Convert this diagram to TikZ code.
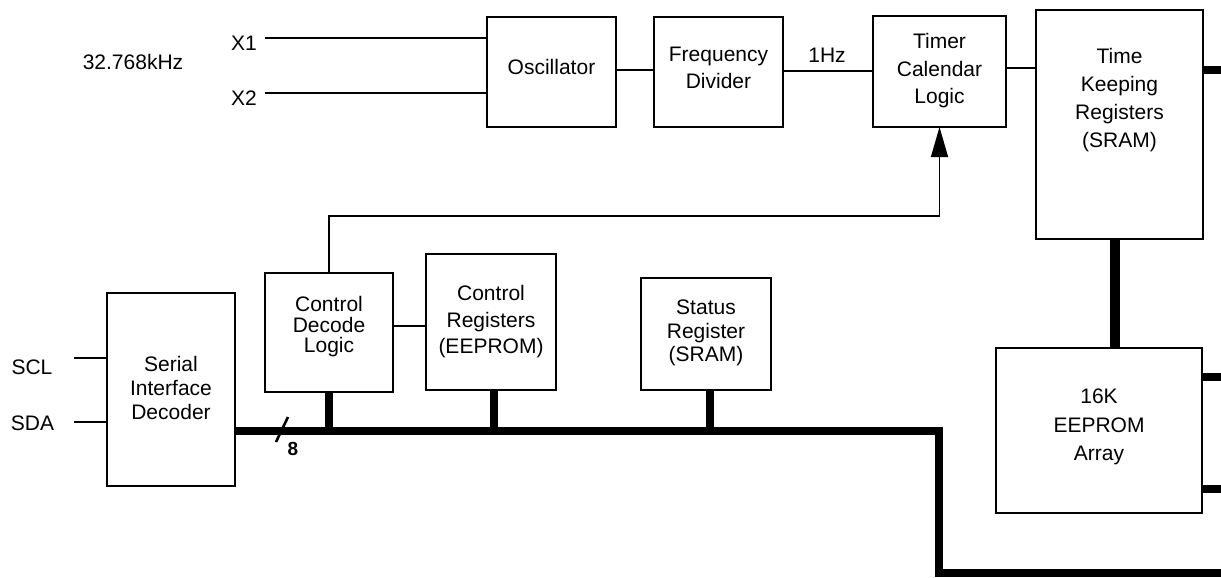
\documentclass[tikz,border=0pt]{standalone}
\usepackage{fontspec}
\setmainfont{Liberation Sans}
\usetikzlibrary{arrows.meta}
\begin{document}
\begin{tikzpicture}[x=1pt,y=-1pt,
  box/.style={draw,line width=2.6pt,inner sep=0pt,outer sep=0pt},
  txt/.style={inner sep=0pt,align=center,font=\fontsize{21}{#1}\selectfont},
  txt/.default=27,
  wire/.style={line width=1.6pt},
  ctl/.style={line width=1.3pt},
  bus/.style={line width=7.4pt},
  fatbus/.style={line width=10pt},
  arr/.style={-{Triangle[length=30pt,width=17pt]}}]
\useasboundingbox (0,0) rectangle (1221,578);
% boxes
\node[box,minimum width=129pt,minimum height=110pt] (osc) at (551.5,72) {};
\node[box,minimum width=129pt,minimum height=110pt] (fd) at (718.5,72) {};
\node[box,minimum width=133pt,minimum height=111pt] (tcl) at (939.5,71.5) {};
\node[box,minimum width=167pt,minimum height=229pt] (tk) at (1119.5,124.5) {};
\node[box,minimum width=206pt,minimum height=165pt] (eep) at (1099,430.5) {};
\node[box,minimum width=128pt,minimum height=193pt] (sid) at (171,389.5) {};
\node[box,minimum width=128pt,minimum height=119pt] (cdl) at (329,332.5) {};
\node[box,minimum width=130pt,minimum height=136pt] (cr) at (491,322) {};
\node[box,minimum width=130pt,minimum height=112pt] (sr) at (706,334) {};
% box texts
\node[txt] (osct) at (551.5,67) {Oscillator};
\node[txt=27] (fdt) at (718.5,68) {Frequency\\Divider};
\node[txt=27.5] (tclt) at (939.5,71) {Timer\\Calendar\\Logic};
\node[txt=28] (tkt) at (1119.5,100.5) {Time\\Keeping\\Registers\\(SRAM)};
\node[txt=28.5] (eept) at (1099,427) {16K\\EEPROM\\Array};
\node[txt=24] (sidt) at (171,387.5) {Serial\\Interface\\Decoder};
\node[txt=20.5] (cdlt) at (329,327) {Control\\Decode\\Logic};
\node[txt=26.5] (crt) at (491,322) {Control\\Registers\\(EEPROM)};
\node[txt=23.5] (srt) at (706,333) {Status\\Register\\(SRAM)};
% labels
\node[txt] (x1) at (244,43) {X1};
\node[txt] (x2) at (244,98) {X2};
\node[txt] (xtal) at (133,62) {32.768kHz};
\node[txt] (hz) at (827,55) {1Hz};
\node[txt] (scl) at (32,367) {SCL};
\node[txt] (sda) at (32.5,423) {SDA};
\node[inner sep=0pt,font=\fontsize{19}{22}\bfseries] (eight) at (293,449) {8};
% coordinates
\coordinate (x1e) at (265,38);
\coordinate (x2e) at (265,93);
\coordinate (scle) at (74,358);
\coordinate (sdae) at (74,422);
\coordinate (tkr) at (1221,70);
\coordinate (er1) at (1221,377);
\coordinate (er2) at (1221,489);
\coordinate (tkx) at (1115,0);
\coordinate (busy) at (0,431);
\coordinate (bc1) at (939,431);
\coordinate (bc2) at (939,573);
\coordinate (busr) at (1221,573);
\coordinate (ctlc) at (939.5,216);
\coordinate (cdlcr) at (0,326);
\coordinate (sl1) at (276,442);
\coordinate (sl2) at (288,417);
% thin wires
\draw[wire] (x1e) -- (x1e -| osc.west);
\draw[wire] (x2e) -- (x2e -| osc.west);
\draw[wire] ([yshift=2pt]osc.east) -- ([yshift=2pt]fd.west);
\draw[wire] ([yshift=1pt]fd.east) -- ([yshift=1pt]fd.east -| tcl.west);
\draw[wire] ([yshift=3.5pt]tcl.east) -- ([yshift=3.5pt]tcl.east -| tk.west);
\draw[wire] (scle) -- (scle -| sid.west);
\draw[wire] (sdae) -- (sdae -| sid.west);
\draw[wire] (cdlcr -| cdl.east) -- (cdlcr -| cr.west);
\draw[ctl,arr] (cdl.north) |- (ctlc) -- (tcl.south);
% buses
\draw[bus] (tk.east |- tkr) -- (tkr);
\draw[bus] (eep.east |- er1) -- (er1);
\draw[bus] (eep.east |- er2) -- (er2);
\draw[fatbus] (tkx |- tk.south) -- (tkx |- eep.north);
\draw[bus] (sid.east |- busy) -- (bc1) -- (bc2) -- (busr);
\draw[bus] (cdl.south) -- (cdl.south |- busy);
\draw[bus] ([xshift=3pt]cr.south) -- ([xshift=3pt]cr.south |- busy);
\draw[bus] ([xshift=4pt]sr.south) -- ([xshift=4pt]sr.south |- busy);
\draw[line width=2.6pt] (sl1) -- (sl2);
\end{tikzpicture}
\end{document}
